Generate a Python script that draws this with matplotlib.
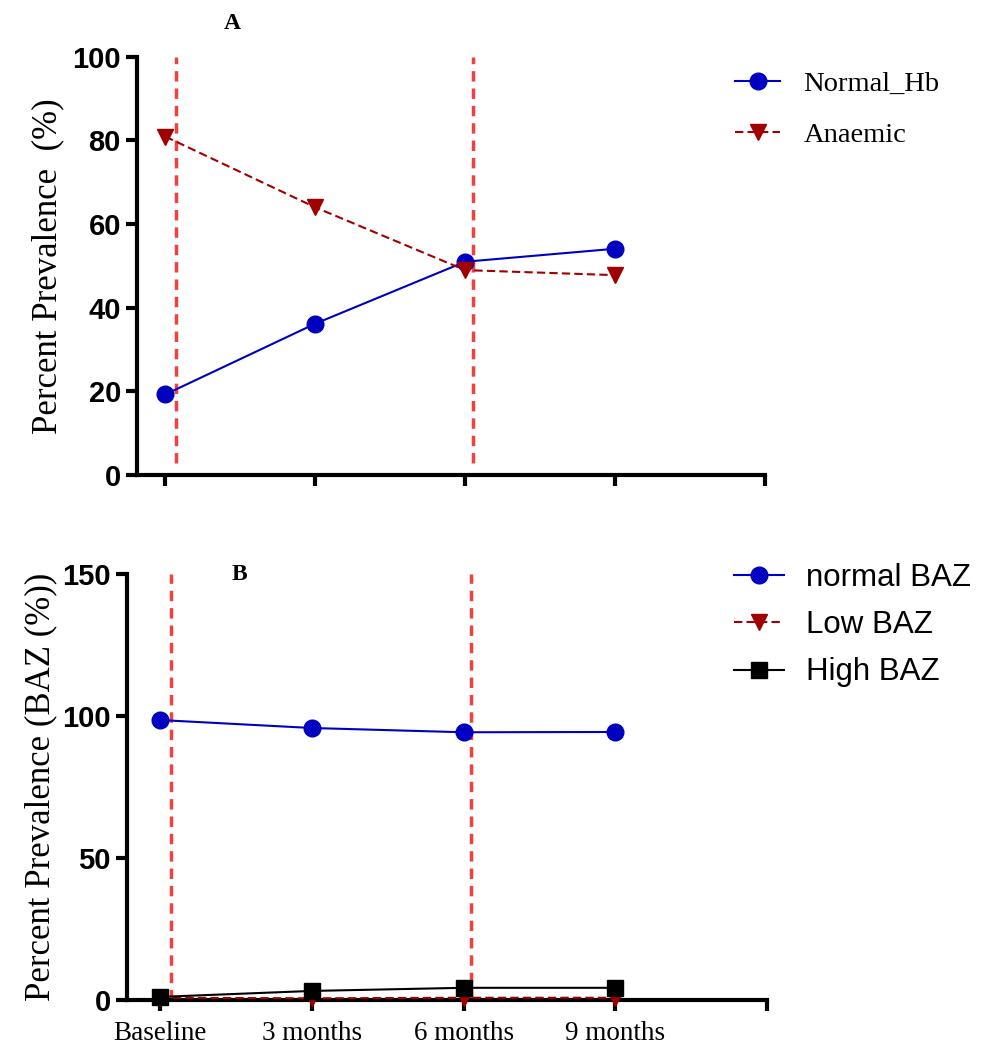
import matplotlib
matplotlib.use('Agg')
from matplotlib import pyplot as plt

# time points (x positions 1..4, plus an unlabeled end tick at 5)
time_pos = [1, 2, 3, 4]
time_labels = ['Baseline', '3 months', '6 months', '9 months']

# Panel A: haemoglobin status (%)
normal_hb = [19.3, 36.2, 51.0, 54.1]
anaemic = [80.9, 64.0, 49.0, 47.8]

# Panel B: BAZ status (%)
normal_baz = [98.6, 95.8, 94.3, 94.4]
low_baz = [0.8, 0.6, 0.8, 0.8]
high_baz = [1.1, 3.2, 4.3, 4.3]

# positions of the red reference lines
ref_lines = [1.07, 3.05]

serif = 'Liberation Serif'
sans = 'Liberation Sans'
blue = '#0000C0'
dark_red = '#A00000'
ref_red = '#F04040'

fig = plt.figure(figsize=(9.92, 10.49), dpi=100)
axA = fig.add_axes([0.138, 0.547, 0.633, 0.399])
axB = fig.add_axes([0.128, 0.0467, 0.645, 0.406])


def style_axis(ax, ymax, ystep):
    for s in ['top', 'right']:
        ax.spines[s].set_visible(False)
    for s in ['left', 'bottom']:
        ax.spines[s].set_linewidth(3)
    ax.set_ylim(0, ymax)
    ax.set_yticks(range(0, ymax + 1, ystep))
    ax.set_xticks([1, 2, 3, 4, 5])
    ax.tick_params(axis='both', width=3, length=8, direction='out')
    for lab in ax.get_yticklabels():
        lab.set_fontfamily(sans)
        lab.set_fontweight('bold')
        lab.set_fontsize(21)


# ---- Panel A ----
for xr in ref_lines:
    axA.plot([xr, xr], [3, 100], color=ref_red, lw=2.5, ls=(0, (3, 2)), zorder=1)
axA.plot(time_pos, normal_hb, color=blue, lw=1.5, marker='o', ms=12,
         label='Normal_Hb', zorder=3, clip_on=False)
axA.plot(time_pos, anaemic, color=dark_red, lw=1.5, ls=(0, (4, 2)), marker='v', ms=12,
         label='Anaemic', zorder=3, clip_on=False)
axA.set_xlim(0.81, 5)
style_axis(axA, 100, 20)
axA.set_xticklabels([])
axA.set_ylabel('Percent Prevalence  (%)', fontfamily=serif, fontsize=25, labelpad=6)
axA.text(0.152, 1.08, 'A', transform=axA.transAxes, fontfamily=serif, fontweight='bold',
         fontsize=17, ha='center', va='center')
fig.legend(handles=axA.get_lines()[2:], loc='upper left', bbox_to_anchor=(0.715, 0.957),
           frameon=False, prop={'family': serif, 'size': 20.5}, handlelength=1.6,
           labelspacing=0.9, handletextpad=0.8)

# ---- Panel B ----
for xr in ref_lines:
    axB.plot([xr, xr], [0, 150], color=ref_red, lw=2.5, ls=(0, (3, 2)), zorder=1)
axB.plot(time_pos, normal_baz, color=blue, lw=1.5, marker='o', ms=12,
         label='normal BAZ', zorder=3, clip_on=False)
axB.plot(time_pos, low_baz, color=dark_red, lw=1.5, ls=(0, (4, 2)), marker='v', ms=12,
         label='Low BAZ', zorder=3, clip_on=False)
axB.plot(time_pos, high_baz, color='black', lw=1.5, marker='s', ms=12,
         label='High BAZ', zorder=3, clip_on=False)
axB.set_xlim(0.78, 5)
style_axis(axB, 150, 50)
axB.set_xticklabels(time_labels + [''], fontfamily=serif, fontsize=19.5)
axB.tick_params(axis='x', pad=7)
axB.set_ylabel('Percent Prevalence (BAZ (%))', fontfamily=serif, fontsize=25, labelpad=4)
axB.text(0.175, 1.0, 'B', transform=axB.transAxes, fontfamily=serif, fontweight='bold',
         fontsize=17, ha='center', va='center')
fig.legend(handles=axB.get_lines()[2:], loc='upper left', bbox_to_anchor=(0.712, 0.49),
           frameon=False, prop={'family': sans, 'size': 22.5}, handlelength=1.6,
           labelspacing=0.55, handletextpad=0.7)

fig.savefig('out.png', dpi=100)
